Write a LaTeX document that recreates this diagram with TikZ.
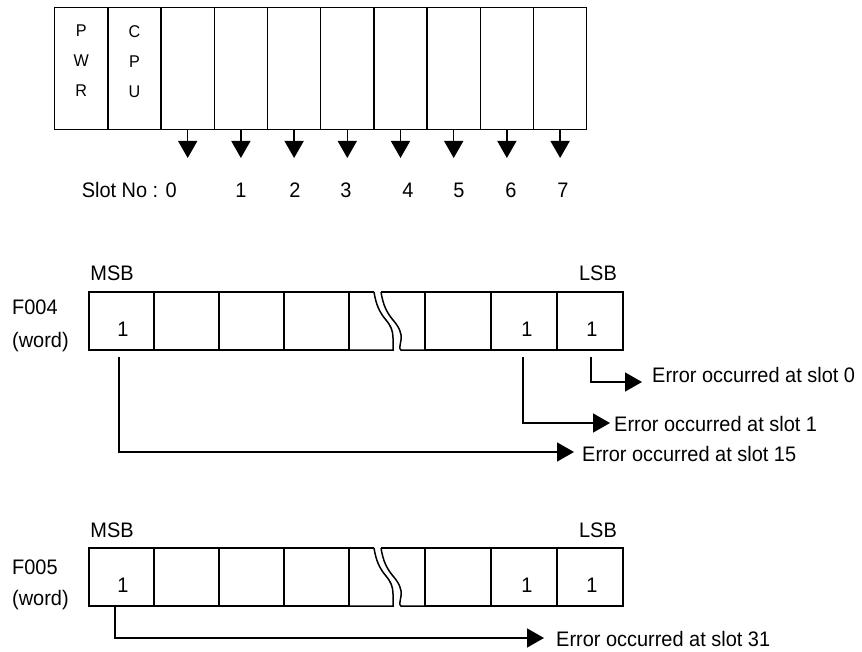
\documentclass[tikz,border=0pt]{standalone}
\usepackage{fontspec}
\setmainfont{Liberation Sans}
\newfontfamily\diagfont[FakeStretch=0.95]{Liberation Sans}
\usetikzlibrary{arrows.meta}

\tikzset{
	rackslot/.style={draw, line width=1.5pt, minimum width=53.2pt, minimum height=122pt, inner sep=0pt, outer sep=0pt},
	regline/.style={line width=1.5pt},
	slotarrow/.style={line width=1.5pt, -{Triangle[length=17pt,width=19pt]}},
	errarrow/.style={line width=1.5pt, -{Triangle[length=17pt,width=19pt]}},
	lbl/.style={font=\diagfont\fontsize{21}{25}\selectfont, inner sep=0pt},
	modlbl/.style={font=\diagfont\fontsize{17}{30}\selectfont, inner sep=0pt, align=center, anchor=north},
}

\begin{document}
\begin{tikzpicture}[x=1pt,y=-1pt]
	\useasboundingbox (0,0) rectangle (862,652);
	
	\newcommand{\SlotW}{53.2}
	\newcommand{\RackL}{54.7}
	
	% base: power, cpu and slots 0..7
	\foreach \i in {0,...,9}
		\node[rackslot] (rack\i) at ({\RackL+\SlotW*\i+\SlotW/2},68.5) {};
	\node[modlbl] (pwr) at ([yshift=-17.5pt]rack0.north) {P\\W\\R};
	\node[modlbl] (cpu) at ([yshift=-17.5pt]rack1.north) {C\\P\\U};
	
	\foreach \i [count=\n from 2] in {0,...,7}
		\draw[slotarrow] (rack\n.south) -- ++(0,28.5);
	
	\node[lbl, anchor=base east] (slotno) at (177,198) {Slot No : 0};
	\foreach \d/\x in {1/241,2/295,3/346,4/408,5/459,6/511,7/563}
		\node[lbl, anchor=base] (slot\d) at (\x,198) {\d};
	
	% the two flag words
	\foreach \r/\dy in {4/0,5/256}{
		\begin{scope}[shift={(0,\dy)}]
			\foreach \x in {89,154,219,284}
				\draw[regline] (\x,292) rectangle ++(65,58);
			\foreach \x in {425,491,557}
				\draw[regline] (\x,292) rectangle ++(66,58);
			% broken cell
			\draw[regline] (349,292) -- (374,292);
			\draw[regline] (381,292) -- (425,292);
			\draw[regline] (374,292) .. controls (376,305) and (380,313) .. (386,320)
				.. controls (391,326) and (393,331) .. (393,338) -- (393,350) -- (349,350);
			\draw[regline] (381,292) .. controls (383,305) and (387,313) .. (393,320)
				.. controls (399,327) and (402,333) .. (401,340)
				.. controls (400,346) and (399,349) .. (401,350) -- (425,350);
			
			\node[lbl, anchor=base] (msb\r) at (112,281) {MSB};
			\node[lbl, anchor=base] (lsb\r) at (598,281) {LSB};
			\node[lbl, anchor=base] (hi\r) at (123,336) {1};
			\node[lbl, anchor=base] (one\r) at (527,336) {1};
			\node[lbl, anchor=base] (zero\r) at (592,336) {1};
		\end{scope}
	}
	
	\node[lbl, anchor=base west] (fa) at (12,315) {F004};
	\node[lbl, anchor=base west] (fawd) at (12,347) {(word)};
	\node[lbl, anchor=base west] (fb) at (12,574) {F005};
	\node[lbl, anchor=base west] (fbwd) at (12,605) {(word)};
	
	% error lines
	\coordinate (fab0) at (591,357);
	\coordinate (fat0) at (642,382);
	\coordinate (fab1) at (523,357);
	\coordinate (fat1) at (610,423);
	\coordinate (fab15) at (119,357);
	\coordinate (fat15) at (574,452);
	\coordinate (fbb15) at (115,606);
	\coordinate (fbt15) at (544,638);
	
	\draw[errarrow] (fab0) |- (fat0);
	\draw[errarrow] (fab1) |- (fat1);
	\draw[errarrow] (fab15) |- (fat15);
	\draw[errarrow] (fbb15) |- (fbt15);
	
	\node[lbl, anchor=base west] (err0) at (652,382.5) {Error occurred at slot 0};
	\node[lbl, anchor=base west] (err1) at (614,431.5) {Error occurred at slot 1};
	\node[lbl, anchor=base west] (err15) at (582,461) {Error occurred at slot 15};
	\node[lbl, anchor=base west] (err31) at (556,646) {Error occurred at slot 31};
\end{tikzpicture}
\end{document}
